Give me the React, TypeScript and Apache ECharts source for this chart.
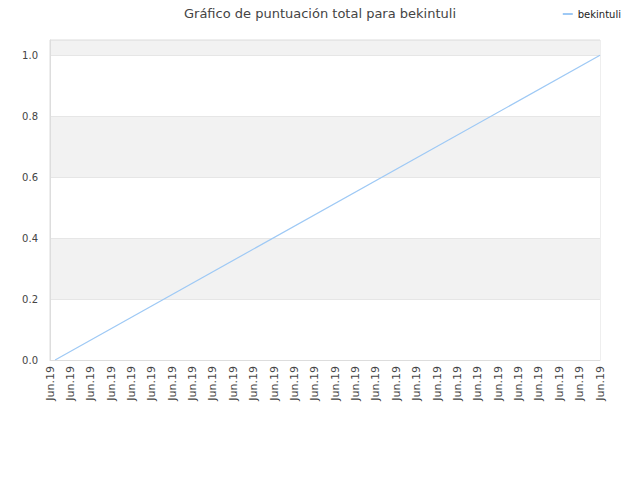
import React, { useEffect, useRef } from 'react';
import * as echarts from 'echarts';

const categories: string[] = Array(28).fill('Jun.19');
// first and last observed points (x index, score)
const scorePoints: [number, number][] = [
  [0.25, 0],
  [27, 1],
];
const yTicks = [0, 0.2, 0.4, 0.6, 0.8, 1.0];

const App: React.FC = () => {
  const chartRef = useRef<HTMLDivElement>(null);

  useEffect(() => {
    if (!chartRef.current) return;
    document.body.style.margin = '0';
    const chart = echarts.init(chartRef.current, undefined, { renderer: 'svg' });

    const option: echarts.EChartsOption = {
      animation: false,
      textStyle: { fontFamily: 'DejaVu Sans' },
      title: {
        text: 'Gráfico de puntuación total para bekintuli',
        left: 'center',
        top: 2,
        textStyle: { fontSize: 13, fontWeight: 'normal', color: '#444' },
      },
      legend: {
        top: 4,
        right: 14,
        itemWidth: 10,
        itemHeight: 2,
        icon: 'rect',
        textStyle: { fontSize: 10, color: '#222' },
        data: ['bekintuli'],
      },
      grid: {
        left: 50,
        right: 40,
        top: 40,
        bottom: 120,
        show: true,
        borderColor: '#ddd',
        borderWidth: 1,
      },
      xAxis: {
        type: 'value',
        min: 0,
        max: categories.length - 1,
        interval: 1,
        axisLine: { show: true, lineStyle: { color: '#ddd' } },
        axisTick: { show: false },
        splitLine: { show: false },
        axisLabel: {
          rotate: 90,
          fontSize: 11,
          color: '#444',
          margin: 6,
          formatter: (v: number) => categories[Math.round(v)] ?? '',
        },
      },
      yAxis: {
        type: 'value',
        min: 0,
        max: 1.05,
        interval: 0.2,
        axisLine: { show: true, lineStyle: { color: '#ddd' } },
        axisTick: { show: false },
        splitLine: { show: true, lineStyle: { color: '#e6e6e6' } },
        splitArea: { show: true, areaStyle: { color: ['#ffffff', '#f2f2f2'] } },
        axisLabel: {
          fontSize: 10,
          color: '#444',
          margin: 12,
          formatter: (v: number) => (yTicks.some((t) => Math.abs(t - v) < 1e-9) ? v.toFixed(1) : ''),
        },
      },
      series: [
        {
          name: 'bekintuli',
          type: 'line',
          showSymbol: false,
          color: '#9ec9f5',
          lineStyle: { width: 1.2, color: '#9ec9f5' },
          data: scorePoints,
        },
      ],
    };

    chart.setOption(option);
    return () => {
      chart.dispose();
    };
  }, []);

  return <div ref={chartRef} style={{ width: '640px', height: '480px' }} />;
};

export default App;
